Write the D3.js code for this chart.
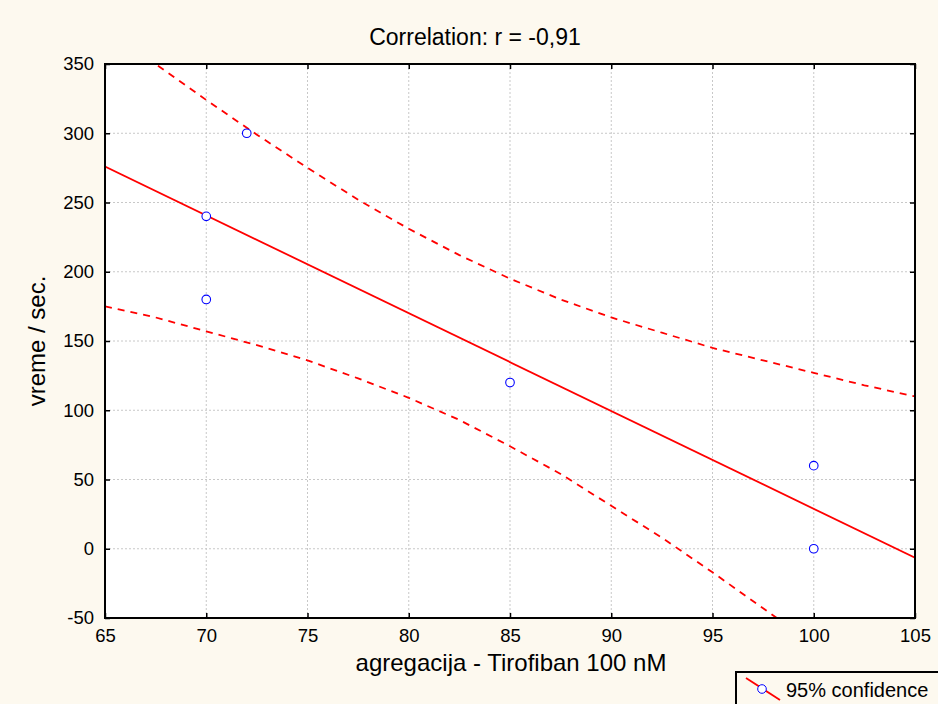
<!DOCTYPE html>
<html>
<head>
<meta charset="utf-8">
<script src="https://cdn.jsdelivr.net/npm/d3@7"></script>
<style>
  body { margin: 0; background: #fdf9ef; }
  svg { display: block; font-family: "Liberation Sans", Arial, sans-serif; }
</style>
</head>
<body>
<div id="root"></div>
<script>
// scatter points
const ptX = [70, 70, 72, 85, 100, 100];
const ptY = [240, 180, 300, 120, 60, 0];
// fitted line end points
const fitX = [65, 105];
const fitY = [276, -6.5];
// 95% confidence band
const bandX = [65, 67.5, 70, 72.5, 75, 77.5, 80, 82.5, 85, 87.5, 90, 92.5, 95, 97.5, 100, 102.5, 105];
const bandHi = [376, 350, 324, 299, 275, 252, 231, 212, 195, 180, 167, 156, 145, 136, 127, 118, 110];
const bandLo = [175, 167, 157, 147, 136, 123, 109, 93, 74, 54, 31, 8, -17, -43, -69, -96, -123];
const xTicks = [65, 70, 75, 80, 85, 90, 95, 100, 105];
const yTicks = [-50, 0, 50, 100, 150, 200, 250, 300, 350];

const W = 938, H = 704;
const margin = {top: 64, right: 23, bottom: 86, left: 105};
const width = W - margin.left - margin.right,
    height = H - margin.top - margin.bottom;

const svg = d3.select("#root").append("svg")
    .attr("width", W)
    .attr("height", H);

const g = svg.append("g")
    .attr("transform", "translate(" + margin.left + "," + margin.top + ")");

const x = d3.scaleLinear().domain([65, 105]).range([0, width]);
const y = d3.scaleLinear().domain([-50, 350]).range([height, 0]);

g.append("rect")
    .attr("width", width)
    .attr("height", height)
    .attr("fill", "#fff");

g.append("clipPath").attr("id", "clip")
  .append("rect").attr("width", width).attr("height", height);

// grid
g.selectAll(".vgrid")
  .data(xTicks.slice(1, -1))
  .enter().append("line")
    .attr("x1", d => x(d)).attr("x2", d => x(d))
    .attr("y1", 0).attr("y2", height)
    .attr("stroke", "#c8c8c8")
    .attr("stroke-dasharray", "2,2");
g.selectAll(".hgrid")
  .data(yTicks.slice(1, -1))
  .enter().append("line")
    .attr("y1", d => y(d)).attr("y2", d => y(d))
    .attr("x1", 0).attr("x2", width)
    .attr("stroke", "#c8c8c8")
    .attr("stroke-dasharray", "2,2");

const plot = g.append("g").attr("clip-path", "url(#clip)");

const band = d3.line()
    .x((d, i) => x(bandX[i]))
    .y(d => y(d));

[bandHi, bandLo].forEach(b => {
  plot.append("path")
      .attr("d", band(b))
      .attr("fill", "none")
      .attr("stroke", "#ff0000")
      .attr("stroke-width", 1.8)
      .attr("stroke-dasharray", "7,6");
});

plot.append("line")
    .attr("x1", x(fitX[0])).attr("y1", y(fitY[0]))
    .attr("x2", x(fitX[1])).attr("y2", y(fitY[1]))
    .attr("stroke", "#ff0000")
    .attr("stroke-width", 1.8);

plot.selectAll(".dot")
  .data(ptX)
  .enter().append("circle")
    .attr("cx", d => x(d))
    .attr("cy", (d, i) => y(ptY[i]))
    .attr("r", 4.3)
    .attr("fill", "#fff")
    .attr("stroke", "#0000ff")
    .attr("stroke-width", 1.1);

// axes with inward ticks
const axisStyle = sel => {
  sel.select(".domain").remove();
  sel.selectAll("line").attr("stroke", "#000").attr("stroke-width", 1.5);
  sel.selectAll("text")
    .style("font-size", "18.5px")
    .style("font-family", "'Liberation Sans', Arial, sans-serif")
    .attr("fill", "#000");
};
const plain = d => String(d);

g.append("g")
    .attr("transform", "translate(0," + height + ")")
    .call(d3.axisBottom(x).tickValues(xTicks).tickFormat(plain).tickSizeInner(-5).tickPadding(11))
    .call(axisStyle);
g.append("g")
    .call(d3.axisTop(x).tickValues(xTicks).tickSizeInner(-5).tickFormat(""))
    .call(axisStyle);
g.append("g")
    .call(d3.axisLeft(y).tickValues(yTicks).tickFormat(plain).tickSizeInner(-5).tickPadding(11))
    .call(axisStyle);
g.append("g")
    .attr("transform", "translate(" + width + ",0)")
    .call(d3.axisRight(y).tickValues(yTicks).tickSizeInner(-5).tickFormat(""))
    .call(axisStyle);

g.append("rect")
    .attr("width", width)
    .attr("height", height)
    .attr("fill", "none")
    .attr("stroke", "#000")
    .attr("stroke-width", 2);

svg.append("text")
    .attr("x", 475)
    .attr("y", 45)
    .attr("text-anchor", "middle")
    .style("font-size", "23px")
    .text("Correlation: r = -0,91");

svg.append("text")
    .attr("x", 511)
    .attr("y", 671)
    .attr("text-anchor", "middle")
    .style("font-size", "24px")
    .text("agregacija - Tirofiban 100 nM");

svg.append("text")
    .attr("transform", "translate(45," + (margin.top + height / 2) + ") rotate(-90)")
    .attr("text-anchor", "middle")
    .style("font-size", "24px")
    .text("vreme / sec.");

// legend
const legend = svg.append("g").attr("transform", "translate(736,672)");
legend.append("rect")
    .attr("width", 210).attr("height", 40)
    .attr("fill", "#fdf9ef")
    .attr("stroke", "#000").attr("stroke-width", 2);
legend.append("line")
    .attr("x1", 10).attr("y1", 6).attr("x2", 44).attr("y2", 28)
    .attr("stroke", "#ff0000").attr("stroke-width", 1.8);
legend.append("circle")
    .attr("cx", 26).attr("cy", 17).attr("r", 4.3)
    .attr("fill", "#fff").attr("stroke", "#0000ff");
legend.append("text")
    .attr("x", 50).attr("y", 25)
    .style("font-size", "20px")
    .text("95% confidence");
</script>
</body>
</html>
